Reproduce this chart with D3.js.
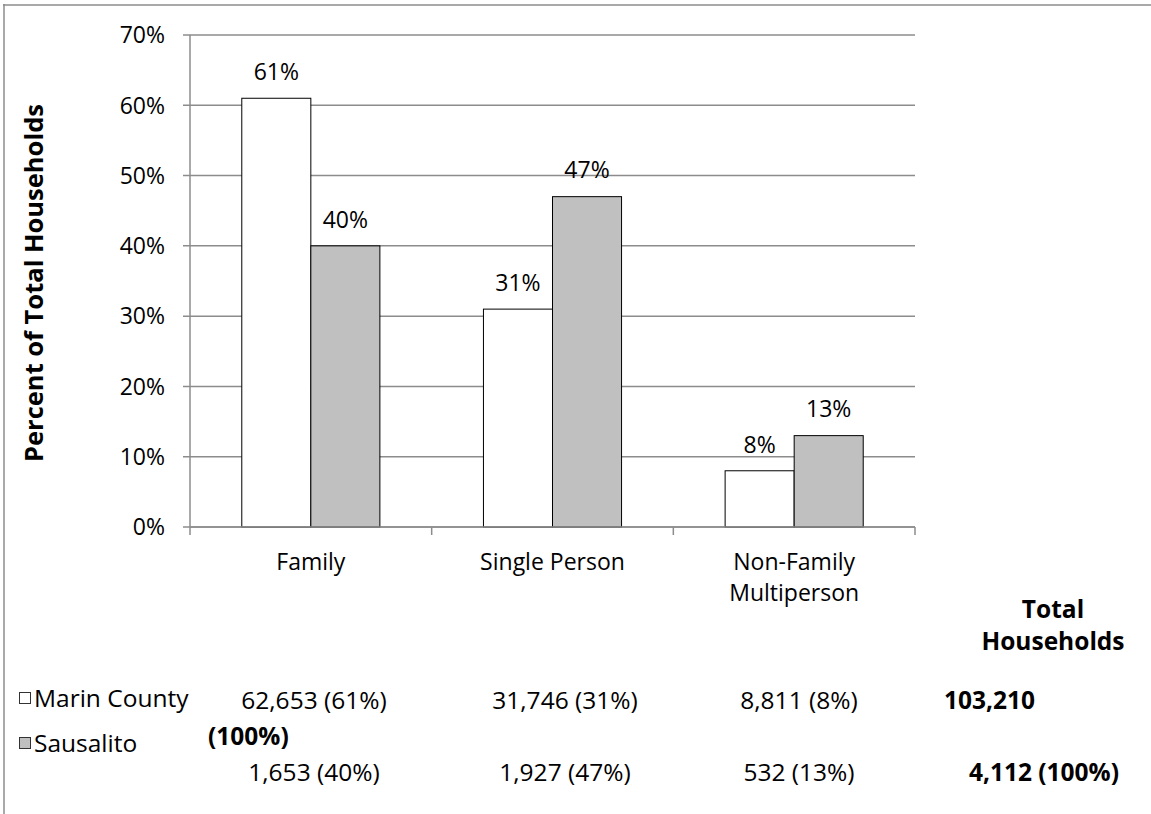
<!DOCTYPE html>
<html>
<head>
<meta charset="utf-8">
<script src="https://cdn.jsdelivr.net/npm/d3@7"></script>
<style>
  html, body { margin: 0; padding: 0; background: #fff; }
  svg text { font-family: "Open Sans", "Liberation Sans", sans-serif; fill: #000; }
</style>
</head>
<body>
<svg id="chart" width="1151" height="814"></svg>
<script>
// ---- data ----
const categories = ["Family", "Single Person", "Non-Family Multiperson"];
const categoryLines = [["Family"], ["Single Person"], ["Non-Family", "Multiperson"]];
const seriesNames = ["Marin County", "Sausalito"];
const marinPct = [61, 31, 8];
const sausalitoPct = [40, 47, 13];
const marinCounts = ["62,653 (61%)", "31,746 (31%)", "8,811 (8%)"];
const sausalitoCounts = ["1,653 (40%)", "1,927 (47%)", "532 (13%)"];
const marinTotal = "103,210";
const marinTotalPct = "(100%)";
const sausalitoTotal = "4,112 (100%)";
const yTicks = [0, 10, 20, 30, 40, 50, 60, 70];

(function () {
const colors = ["#ffffff", "#c0c0c0"];
const gridColor = "#8c8c8c";
const FS = 23;      // chart text
const TFS = 24.5;   // table text
const BFS = 24.5;   // bold table text

const svg = d3.select("#chart");

// outer border (top + left)
svg.append("line").attr("x1", 3).attr("x2", 1151).attr("y1", 5).attr("y2", 5)
  .attr("stroke", gridColor).attr("stroke-width", 1.5);
svg.append("line").attr("x1", 4).attr("x2", 4).attr("y1", 4).attr("y2", 814)
  .attr("stroke", gridColor).attr("stroke-width", 1.5);

const pLeft = 190, pRight = 915, pTop = 35, pBottom = 527;

const x0 = d3.scaleBand().domain(categories).range([pLeft, pRight]).paddingInner(0).paddingOuter(0);
// Excel gap width 75%: 2 bars + 0.75 bar gap on both sides
const barW = x0.bandwidth() / (2 + 1.5);
const y = d3.scaleLinear().domain([0, 70]).range([pBottom, pTop]);

// gridlines
svg.append("g").selectAll("line").data(yTicks).join("line")
  .attr("x1", pLeft - 7).attr("x2", pRight)
  .attr("y1", d => y(d)).attr("y2", d => y(d))
  .attr("stroke", gridColor).attr("stroke-width", 1.5);

// y axis line
svg.append("line").attr("x1", pLeft).attr("x2", pLeft).attr("y1", pTop).attr("y2", pBottom)
  .attr("stroke", gridColor).attr("stroke-width", 1.5);

// y tick labels
svg.append("g").selectAll("text").data(yTicks).join("text")
  .attr("x", 165).attr("y", d => y(d)).attr("dy", "0.36em")
  .attr("text-anchor", "end").attr("font-size", FS)
  .text(d => d + "%");

// x axis ticks
const xTickPos = categories.map(c => x0(c)).concat([x0(categories[categories.length - 1]) + x0.bandwidth()]);
svg.append("g").selectAll("line").data(xTickPos).join("line")
  .attr("x1", d => d).attr("x2", d => d).attr("y1", pBottom).attr("y2", pBottom + 8)
  .attr("stroke", gridColor).attr("stroke-width", 1.5);

// bars
const series = [marinPct, sausalitoPct];
series.forEach((vals, si) => {
  const g = svg.append("g");
  g.selectAll("rect").data(categories).join("rect")
    .attr("x", (c) => x0(c) + barW * 0.75 + si * barW)
    .attr("y", (c, i) => y(vals[i]))
    .attr("width", barW)
    .attr("height", (c, i) => y(0) - y(vals[i]))
    .attr("fill", colors[si]).attr("stroke", "#000").attr("stroke-width", 1);
  g.selectAll("text").data(categories).join("text")
    .attr("x", (c) => x0(c) + barW * 0.75 + si * barW + barW / 2)
    .attr("y", (c, i) => y(vals[i]) - 26.5).attr("dy", "0.36em")
    .attr("text-anchor", "middle").attr("font-size", FS)
    .text((c, i) => vals[i] + "%");
});

// x axis line (on top of bars)
svg.append("line").attr("x1", pLeft).attr("x2", pRight).attr("y1", pBottom).attr("y2", pBottom)
  .attr("stroke", gridColor).attr("stroke-width", 1.5);

// category labels
categories.forEach((c, i) => {
  const t = svg.append("text").attr("text-anchor", "middle").attr("font-size", FS);
  categoryLines[i].forEach((ln, k) => {
    t.append("tspan").attr("x", x0(c) + x0.bandwidth() / 2).attr("y", 562 + k * 31).attr("dy", "0.36em").text(ln);
  });
});

// y axis title
svg.append("text")
  .attr("transform", "translate(43,283) rotate(-90)")
  .attr("text-anchor", "middle").attr("font-size", 25.5).attr("font-weight", "bold")
  .text("Percent of Total Households");

// table header
svg.append("text").attr("x", 1053).attr("y", 609).attr("dy", "0.36em")
  .attr("text-anchor", "middle").attr("font-size", BFS).attr("font-weight", "bold").text("Total");
svg.append("text").attr("x", 1053).attr("y", 641).attr("dy", "0.36em")
  .attr("text-anchor", "middle").attr("font-size", BFS).attr("font-weight", "bold").text("Households");

// legend
const legendY = [698, 743];
seriesNames.forEach((s, i) => {
  svg.append("rect").attr("x", 19.5).attr("y", legendY[i] - 5.5).attr("width", 11).attr("height", 11)
    .attr("fill", colors[i]).attr("stroke", "#333").attr("stroke-width", 1);
  svg.append("text").attr("x", 34).attr("y", legendY[i]).attr("dy", "0.36em")
    .attr("font-size", TFS).text(s);
});

// table values
const colCenters = [314, 565, 799];
svg.append("g").selectAll("text").data(marinCounts).join("text")
  .attr("x", (d, i) => colCenters[i]).attr("y", 700).attr("dy", "0.36em")
  .attr("text-anchor", "middle").attr("font-size", TFS).text(d => d);
svg.append("g").selectAll("text").data(sausalitoCounts).join("text")
  .attr("x", (d, i) => colCenters[i]).attr("y", 772).attr("dy", "0.36em")
  .attr("text-anchor", "middle").attr("font-size", TFS).text(d => d);

svg.append("text").attr("x", 944).attr("y", 700).attr("dy", "0.36em")
  .attr("font-size", BFS).attr("font-weight", "bold").text(marinTotal);
svg.append("text").attr("x", 208).attr("y", 736).attr("dy", "0.36em")
  .attr("font-size", BFS).attr("font-weight", "bold").text(marinTotalPct);
svg.append("text").attr("x", 1119).attr("y", 772).attr("dy", "0.36em")
  .attr("text-anchor", "end").attr("font-size", BFS).attr("font-weight", "bold").text(sausalitoTotal);
})();
</script>
</body>
</html>
